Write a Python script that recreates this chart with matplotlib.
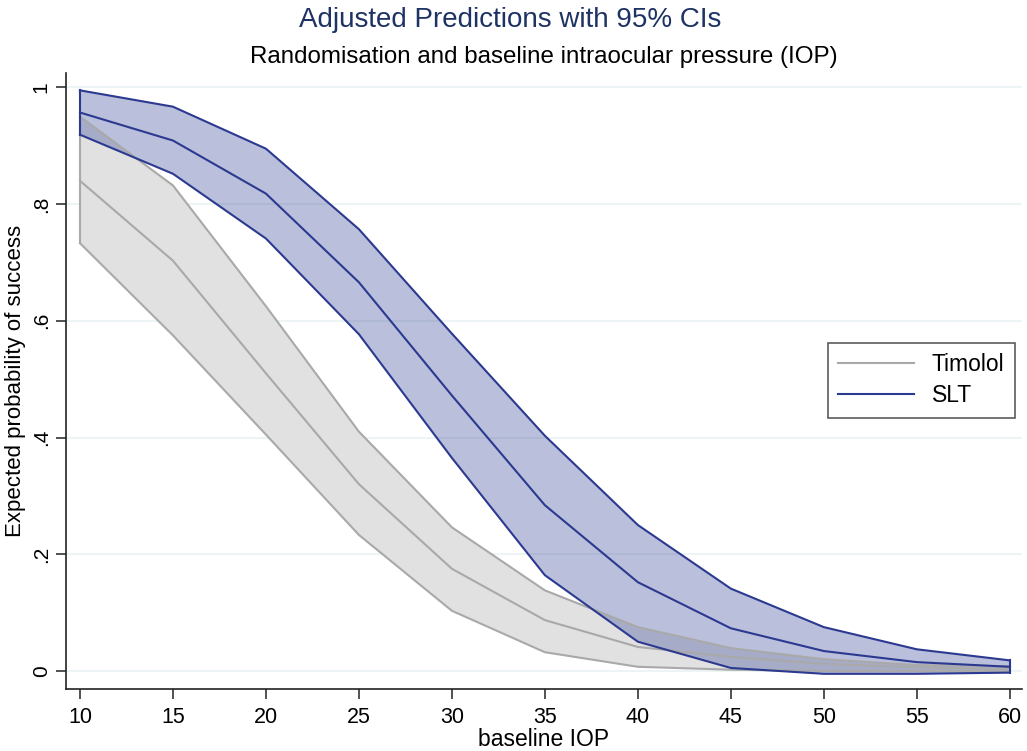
import matplotlib.pyplot as plt

plt.rcParams["font.family"] = ["Liberation Sans", "DejaVu Sans"]

# predicted probability of success by baseline IOP, with 95% CI bounds
iop = [10, 15, 20, 25, 30, 35, 40, 45, 50, 55, 60]

timolol_mid = [0.840, 0.703, 0.510, 0.320, 0.175, 0.087, 0.041, 0.024, 0.012, 0.006, 0.003]
timolol_lo = [0.733, 0.575, 0.405, 0.233, 0.103, 0.032, 0.007, 0.002, 0.000, 0.000, 0.000]
timolol_hi = [0.950, 0.832, 0.625, 0.410, 0.246, 0.138, 0.075, 0.039, 0.020, 0.010, 0.008]

slt_mid = [0.957, 0.909, 0.818, 0.666, 0.472, 0.284, 0.152, 0.073, 0.034, 0.015, 0.007]
slt_lo = [0.919, 0.852, 0.741, 0.577, 0.365, 0.164, 0.050, 0.005, -0.005, -0.005, -0.003]
slt_hi = [0.995, 0.967, 0.895, 0.757, 0.578, 0.403, 0.250, 0.141, 0.075, 0.037, 0.018]

xticks = [10, 15, 20, 25, 30, 35, 40, 45, 50, 55, 60]
yticks = [0, 0.2, 0.4, 0.6, 0.8, 1.0]
ytick_labels = ["0", ".2", ".4", ".6", ".8", "1"]

gray_line = "#a9a9a9"
gray_fill = "#e1e1e1"
navy_line = "#2b3990"
navy_fill = "#3a4a9a"

fig = plt.figure(figsize=(10.27, 7.51), dpi=100)
ax = fig.add_axes([0.0643, 0.0826, 0.9307, 0.8204])

# Timolol band first, SLT band drawn over it with some transparency
ax.fill_between(iop, timolol_lo, timolol_hi, color=gray_fill, lw=0)
ax.plot(iop, timolol_lo, color=gray_line, lw=1.5)
ax.plot(iop, timolol_hi, color=gray_line, lw=1.5)
ax.plot([iop[0], iop[0]], [timolol_lo[0], timolol_hi[0]], color=gray_line, lw=1.5)
ax.plot([iop[-1], iop[-1]], [timolol_lo[-1], timolol_hi[-1]], color=gray_line, lw=1.5)
ax.plot(iop, timolol_mid, color=gray_line, lw=1.5, label="Timolol")

ax.fill_between(iop, slt_lo, slt_hi, color=navy_fill, alpha=0.35, lw=0)
ax.plot(iop, slt_lo, color=navy_line, lw=1.5)
ax.plot(iop, slt_hi, color=navy_line, lw=1.5)
ax.plot([iop[0], iop[0]], [slt_lo[0], slt_hi[0]], color=navy_line, lw=1.5)
ax.plot([iop[-1], iop[-1]], [slt_lo[-1], slt_hi[-1]], color=navy_line, lw=1.5)
ax.plot(iop, slt_mid, color=navy_line, lw=1.5, label="SLT")

ax.set_xlim(9.25, 60.65)
ax.set_ylim(-0.031, 1.025)
ax.set_xticks(xticks)
ax.set_yticks(yticks)
ax.set_yticklabels(ytick_labels, rotation=90, va="center")
ax.tick_params(axis="both", labelsize=15.5, length=7, width=1.2, color="#333333", pad=6)
ax.tick_params(axis="y", labelsize=15, pad=4)

ax.grid(axis="y", color="#eaf2f3", lw=1.2)
ax.set_axisbelow(True)
for s in ["top", "right"]:
    ax.spines[s].set_visible(False)
for s in ["left", "bottom"]:
    ax.spines[s].set_color("#222222")
    ax.spines[s].set_linewidth(1.2)

ax.set_xlabel("baseline IOP", fontsize=16.5, labelpad=0)
ax.set_ylabel("Expected probability of success", fontsize=16, ha="center", va="center")
ax.yaxis.set_label_coords(-0.053, 0.5)

fig.text(0.497, 0.974, "Adjusted Predictions with 95% CIs", ha="center", va="center",
         fontsize=20, color="#1e3364")
fig.text(0.53, 0.924, "Randomisation and baseline intraocular pressure (IOP)",
         ha="center", va="center", fontsize=17.4)

leg = ax.legend(loc="center right", bbox_to_anchor=(0.9927, 0.5008), fontsize=16.5,
                frameon=True, fancybox=False, handlelength=3.3, handletextpad=0.8,
                borderpad=0.45, labelspacing=0.35, borderaxespad=0)
leg.get_frame().set_edgecolor("#333333")
leg.get_frame().set_linewidth(1.2)

plt.savefig("out.png", dpi=100)
